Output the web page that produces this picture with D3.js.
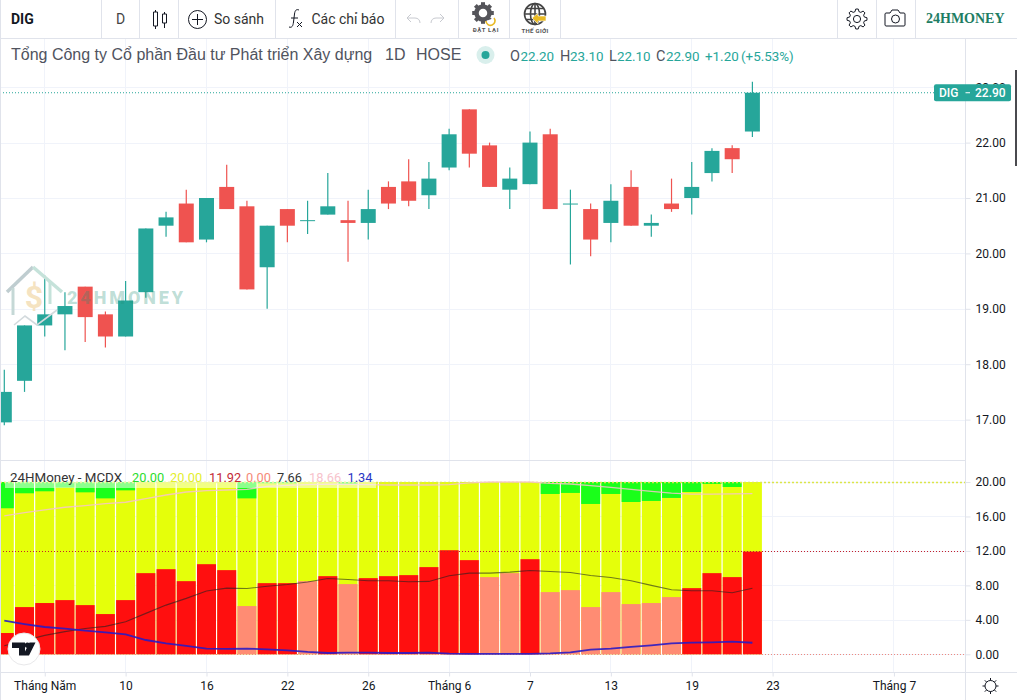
<!DOCTYPE html>
<html>
<head>
<meta charset="utf-8">
<script src="https://cdn.jsdelivr.net/npm/d3@7"></script>
<style>
  html, body { margin: 0; padding: 0; background: #fff; overflow: hidden; }
  svg { display: block; font-family: Roboto, "Liberation Sans", sans-serif; }
</style>
</head>
<body>
<div id="chart"></div>
<script>
// Candles
const opens  = [16.95,17.7,18.7,18.9,19.4,18.9,18.5,19.3,20.5,20.9,20.25,21.2,20.85,19.75,20.8,20.6,20.7,20.6,20.55,21.2,21.3,21.05,21.55,22.6,21.95,21.15,21.25,22.15,20.9,20.8,20.55,21.2,20.5,20.9,21,21.45,21.9,22.2];
const highs  = [17.9,18.7,19.6,19.3,19.4,18.95,19.5,20.45,20.75,21.15,21,21.6,20.95,20.5,20.8,20.95,21.45,20.95,21.15,21.3,21.7,21.65,22.25,22.6,22,21.55,22.2,22.25,21.15,20.9,21.25,21.5,20.7,21.35,21.65,21.9,21.95,23.1];
const lows   = [16.9,17.5,18.5,18.25,18.4,18.3,18.5,19.2,20.3,20.2,20.2,20.8,19.35,19,20.2,20.35,20.7,19.85,20.25,20.8,20.85,20.8,21.5,21.55,21.2,20.8,21.25,20.8,19.8,19.95,20.2,20.5,20.3,20.75,20.7,21.3,21.45,22.1];
const closes = [17.5,18.7,18.9,19.05,18.85,18.5,19.15,20.45,20.65,20.2,21,20.8,19.35,20.5,20.5,20.6,20.85,20.55,20.8,20.9,20.95,21.35,22.15,21.8,21.2,21.35,22,20.8,20.9,20.25,20.95,20.5,20.55,20.8,21.2,21.85,21.7,22.9];

// MCDX columns and lines
const bigMoney = [2.47,5.48,5.95,6.29,5.71,4.67,6.29,9.42,9.88,8.49,10.46,9.77,5.6,8.26,8.26,8.49,9.07,8.15,8.84,9.07,9.19,10.12,12.08,10.93,8.96,9.42,11.04,7.22,7.45,5.48,7.22,5.83,5.95,6.64,7.68,9.42,8.96,11.92];
const bigFaded = [12,15,17,24,25,27,28,29,30,31,32,33];
const greenFloor = [16.95,18.69,18.92,19.35,18.8,18.1,19.03,20,20,20,20,20,18.1,19.85,19.85,20,20,19.8,20,20,20,20,20,20,20,20,20,18.61,18.73,17.45,18.61,17.68,17.8,18.15,18.84,19.77,19.42,20];
const bigAverage = [1,1.6,2.2,2.63,3,3.24,3.78,4.75,5.71,6.49,7.34,7.68,7.64,7.9,8.1,8.4,8.8,8.69,8.53,8.53,8.42,8.46,9.11,9.42,9.42,9.54,9.73,9.61,9.5,9.15,8.92,8.53,8,7.49,7.37,7.37,7.14,7.66];
const greenAverage = [16.06,16.44,16.76,17.07,17.26,17.5,17.65,18.07,18.49,18.84,19,19.07,19.15,19.5,19.6,19.7,19.75,19.72,19.7,19.65,19.65,19.65,19.7,19.9,20,20,20,19.85,19.77,19.57,19.38,19.15,18.92,18.7,18.6,18.6,18.62,18.66];
const blueLine = [3.9,3.51,3.17,2.97,2.74,2.55,2.32,1.66,1.27,0.97,0.66,0.62,0.66,0.58,0.46,0.27,0.15,0.19,0.19,0.15,0.15,0.2,0.08,0.04,0.04,0.04,0.04,0.1,0.23,0.54,0.66,0.85,1.04,1.27,1.35,1.39,1.47,1.34];

// Axes
const priceTicks = [17,18,19,20,21,22,23];
const mcdxTicks = [0,4,8,12,16,20];
const timeTickIndex = [2,6,10,14,18,22,26,30,34,38,44];
const timeTickLabels = ["Tháng Năm","10","16","22","26","Tháng 6","7","13","19","23","Tháng 7"];

const legendItems = [
  ["20.00","#2bdc2b",132], ["20.00","#e3ee2c",170], ["11.92","#c42b36",209],
  ["0.00","#f58a78",246], ["7.66","#333333",277], ["18.66","#f7c3cc",309], ["1.34","#2a35c4",347.5]
];
const ohlcItems = [
  ["O","#50535e",510,14.5], ["22.20","#26a69a",520.5,13.4], ["H","#50535e",560,14.5], ["23.10","#26a69a",570,13.4],
  ["L","#50535e",609,14.5], ["22.10","#26a69a",617,13.4], ["C","#50535e",656,14.5], ["22.90","#26a69a",666,13.4],
  ["+1.20","#26a69a",705,13.4], ["(+5.53%)","#26a69a",741,13.4]
];

const UP = "#26a69a", DOWN = "#ef5350", GRID = "#f0f3fa", BORDER = "#e0e3eb", TEXT = "#131722";
const width = 1017, height = 700;
const scaleX = 965, pane2Top = 460, axisTop = 672;

const svg = d3.select("#chart").append("svg")
  .attr("width", width)
  .attr("height", height);

svg.append("defs").append("clipPath").attr("id", "plot")
  .append("rect").attr("x", 1).attr("y", 39).attr("width", scaleX - 1).attr("height", axisTop - 39);

// Scales
const x = d3.scaleLinear().domain([0, 37]).range([4.3, 752.4]);
const yPrice = d3.scaleLinear().domain([17, 22]).range([419.6, 142.6]);
const yMcdx = d3.scaleLinear().domain([0, 20]).range([654.3, 482]);

// Grid lines
const grid = svg.append("g").attr("stroke", GRID).attr("stroke-width", 1);
grid.selectAll("line.v").data(timeTickIndex).enter().append("line")
  .attr("x1", d => Math.floor(x(d)) + .5).attr("x2", d => Math.floor(x(d)) + .5)
  .attr("y1", 39).attr("y2", axisTop);
grid.selectAll("line.p").data(priceTicks).enter().append("line")
  .attr("x1", 0).attr("x2", scaleX)
  .attr("y1", d => Math.round(yPrice(d)) + .5).attr("y2", d => Math.round(yPrice(d)) + .5);
grid.selectAll("line.m").data(mcdxTicks).enter().append("line")
  .attr("x1", 0).attr("x2", scaleX)
  .attr("y1", d => Math.round(yMcdx(d)) + .5).attr("y2", d => Math.round(yMcdx(d)) + .5);

// Price pane
const pricePane = svg.append("g").attr("clip-path", "url(#plot)");
const candles = d3.range(opens.length);
const candleColor = i => closes[i] >= opens[i] ? UP : DOWN;

pricePane.selectAll("line.wick").data(candles).enter().append("line")
  .attr("x1", i => x(i)).attr("x2", i => x(i))
  .attr("y1", i => yPrice(highs[i])).attr("y2", i => yPrice(lows[i]))
  .attr("stroke", candleColor).attr("stroke-width", 1.2);

pricePane.selectAll("rect.body").data(candles).enter().append("rect")
  .attr("x", i => x(i) - 7.5).attr("width", 15)
  .attr("y", i => yPrice(Math.max(opens[i], closes[i])))
  .attr("height", i => Math.max(1, Math.abs(yPrice(opens[i]) - yPrice(closes[i]))))
  .attr("fill", candleColor);

// Last price line
pricePane.append("line")
  .attr("x1", 0).attr("x2", 934)
  .attr("y1", yPrice(22.9)).attr("y2", yPrice(22.9))
  .attr("stroke", UP).attr("stroke-width", 1).attr("stroke-dasharray", "1 2");

// Watermark sits on top of the candles
const mark = svg.append("g");
mark.append("path").attr("d", "M7 292 L33 267").attr("fill", "none").attr("stroke", "#bfcdd0").attr("stroke-width", 3.5);
mark.append("path").attr("d", "M33 267 L62 292").attr("fill", "none").attr("stroke", "#c5e2da").attr("stroke-width", 3.5);
mark.append("path").attr("d", "M13 288 L13 315").attr("fill", "none").attr("stroke", "#c5d8d6").attr("stroke-width", 3);
mark.append("path").attr("d", "M50 282 L50 304").attr("fill", "none").attr("stroke", "#c5e2da").attr("stroke-width", 3);
mark.append("path").attr("d", "M14 325 L25 316 L37 325 L57 310").attr("fill", "none").attr("stroke", "#d3dadd").attr("stroke-width", 1.6);
mark.append("text").attr("x", 34).attr("y", 308).attr("text-anchor", "middle")
  .attr("font-size", 32).attr("font-weight", 700).attr("fill", "#f5e3c1").text("$");
mark.append("text").attr("x", 67).attr("y", 303.5).attr("font-size", 18).attr("font-weight", 900)
  .attr("letter-spacing", 2.9).attr("fill", "#1f8f75").attr("fill-opacity", .3).text("24HMONEY");

// MCDX columns
const mcdx = svg.append("g").attr("clip-path", "url(#plot)");
const barW = 19;
mcdx.selectAll("rect.yellow").data(candles).enter().append("rect")
  .attr("x", i => x(i) - barW / 2).attr("width", barW)
  .attr("y", yMcdx(20)).attr("height", yMcdx(0) - yMcdx(20))
  .attr("fill", "#e5ff0a");
mcdx.selectAll("rect.green").data(candles).enter().append("rect")
  .attr("x", i => x(i) - barW / 2).attr("width", barW)
  .attr("y", yMcdx(20)).attr("height", i => yMcdx(greenFloor[i]) - yMcdx(20))
  .attr("fill", "#1aff1a");
mcdx.selectAll("rect.red").data(candles).enter().append("rect")
  .attr("x", i => x(i) - barW / 2).attr("width", barW)
  .attr("y", i => yMcdx(bigMoney[i])).attr("height", i => yMcdx(0) - yMcdx(bigMoney[i]))
  .attr("fill", i => bigFaded.includes(i) ? "#ff8c73" : "#ff0f0f");

// Level lines
[[20, "#dbe64a", "2 2", 1.5], [12, "#c4202c", "1 2", 1], [0, "#ee8a80", "1 2", 1]].forEach(([v, color, dash, w]) => {
  mcdx.append("line").attr("x1", 0).attr("x2", scaleX)
    .attr("y1", Math.round(yMcdx(v)) + .5).attr("y2", Math.round(yMcdx(v)) + .5)
    .attr("stroke", color).attr("stroke-width", w).attr("stroke-dasharray", dash);
});

// MCDX lines
const lineOf = yValues => d3.line().x(i => x(i)).y(i => yMcdx(yValues[i]))(candles);
mcdx.append("path").attr("d", lineOf(greenAverage)).attr("fill", "none")
  .attr("stroke", "#f7c3cc").attr("stroke-opacity", .85).attr("stroke-width", 1.3);
mcdx.append("path").attr("d", lineOf(bigAverage)).attr("fill", "none")
  .attr("stroke", "#222").attr("stroke-opacity", .6).attr("stroke-width", 1.1);
mcdx.append("path").attr("d", lineOf(blueLine)).attr("fill", "none")
  .attr("stroke", "#2a1bc4").attr("stroke-opacity", .9).attr("stroke-width", 1.8);

// Legend backing over the columns
svg.append("rect").attr("x", 5).attr("y", 482).attr("width", 371).attr("height", 6)
  .attr("fill", "#fff").attr("opacity", .5);

// Pane borders
const borders = [
  [0, 38.5, width, 38.5], [0, pane2Top + .5, scaleX, pane2Top + .5],
  [0, axisTop + .5, width, axisTop + .5], [scaleX + .5, 39, scaleX + .5, height],
  [.5, 0, .5, height]
];
svg.append("g").selectAll("line").data(borders).enter().append("line")
  .attr("x1", d => d[0]).attr("y1", d => d[1]).attr("x2", d => d[2]).attr("y2", d => d[3])
  .attr("stroke", BORDER).attr("stroke-width", 1);

// Page scrollbar sliver at the right edge
svg.append("rect").attr("x", 1015).attr("y", 70).attr("width", 2).attr("height", 96).attr("fill", "#4a4a4f");

// Axes
function styleAxis(g) {
  g.select(".domain").remove();
  g.selectAll("line").attr("stroke", BORDER);
  g.selectAll("text").attr("fill", TEXT).attr("font-size", 12)
    .attr("font-family", "Roboto, 'Liberation Sans', sans-serif");
}
svg.append("g").attr("transform", `translate(${scaleX + .5},0)`)
  .call(d3.axisRight(yPrice).tickValues(priceTicks).tickFormat(d3.format(".2f")).tickSize(5).tickPadding(5))
  .call(styleAxis);
svg.append("g").attr("transform", `translate(${scaleX + .5},0)`)
  .call(d3.axisRight(yMcdx).tickValues(mcdxTicks).tickFormat(d3.format(".2f")).tickSize(5).tickPadding(5))
  .call(styleAxis);
svg.append("g").attr("transform", `translate(0,${axisTop + .5})`)
  .call(d3.axisBottom(x).tickValues(timeTickIndex)
    .tickFormat(d => timeTickLabels[timeTickIndex.indexOf(d)]).tickSize(4).tickPadding(5))
  .call(styleAxis);

// Last price label
const tag = svg.append("g").attr("transform", `translate(0,${yPrice(22.9)})`);
tag.append("rect").attr("x", 934).attr("y", -8.5).attr("width", 77).attr("height", 17).attr("rx", 2).attr("fill", UP);
tag.append("line").attr("x1", 965.5).attr("x2", 970).attr("stroke", "#fff");
tag.append("text").attr("x", 939).attr("y", 4.5).attr("font-size", 12).attr("font-weight", 500).attr("fill", "#fff").text("DIG");
tag.append("text").attr("x", 975).attr("y", 4.5).attr("font-size", 12).attr("font-weight", 500).attr("fill", "#fff").text("22.90");

// Title row
const titleFont = "'Liberation Sans', Arial, sans-serif";
svg.append("text").attr("x", 11).attr("y", 60).attr("font-size", 16).attr("font-family", titleFont).attr("fill", "#50535e")
  .text("Tổng Công ty Cổ phần Đầu tư Phát triển Xây dựng");
svg.append("text").attr("x", 385).attr("y", 60).attr("font-size", 16).attr("font-family", titleFont).attr("fill", "#50535e").text("1D");
svg.append("text").attr("x", 416).attr("y", 60).attr("font-size", 16).attr("font-family", titleFont).attr("fill", "#50535e").text("HOSE");
svg.append("circle").attr("cx", 485.5).attr("cy", 55).attr("r", 9).attr("fill", "#d9efec");
svg.append("circle").attr("cx", 485.5).attr("cy", 55).attr("r", 4).attr("fill", UP);
svg.append("g").selectAll("text").data(ohlcItems).enter().append("text")
  .attr("x", d => d[2]).attr("y", 61).attr("font-size", d => d[3]).attr("fill", d => d[1]).text(d => d[0]);

// MCDX legend
svg.append("text").attr("x", 10).attr("y", 482).attr("font-size", 13.35).attr("fill", "#333").text("24HMoney - MCDX");
svg.append("g").selectAll("text").data(legendItems).enter().append("text")
  .attr("x", d => d[2]).attr("y", 482).attr("font-size", 12.8).attr("fill", d => d[1]).text(d => d[0]);

// Toolbar
const bar = svg.append("g");
[101.5, 139.5, 178.5, 275.5, 395.5, 458.5, 509.5, 560.5, 837.5, 876.5, 915.5].forEach(v => {
  bar.append("line").attr("x1", v).attr("x2", v).attr("y1", 0).attr("y2", 38).attr("stroke", BORDER);
});
bar.append("text").attr("x", 11).attr("y", 24).attr("font-size", 14).attr("font-weight", 700).attr("fill", TEXT).text("DIG");
bar.append("text").attr("x", 116).attr("y", 24).attr("font-size", 14).attr("fill", "#444").text("D");
bar.append("text").attr("x", 214).attr("y", 24).attr("font-size", 14).attr("fill", "#333").text("So sánh");
bar.append("text").attr("x", 311.5).attr("y", 24).attr("font-size", 14).attr("fill", "#333").text("Các chỉ báo");
bar.append("text").attr("x", 926).attr("y", 23).attr("font-size", 14).attr("font-weight", 700)
  .attr("font-family", "'Liberation Serif', serif").attr("fill", "#1e7d63").text("24HMONEY");
bar.append("text").attr("x", 486).attr("y", 31.5).attr("text-anchor", "middle").attr("font-size", 6).attr("font-weight", 700)
  .attr("letter-spacing", .7).attr("fill", "#555").text("ĐẶT LẠI");
bar.append("text").attr("x", 535).attr("y", 32.5).attr("text-anchor", "middle").attr("font-size", 6).attr("font-weight", 700)
  .attr("letter-spacing", .3).attr("fill", "#555").text("THẾ GIỚI");

const icons = bar.append("g").attr("fill", "none").attr("stroke", TEXT).attr("stroke-width", 1);
// candle icon
icons.append("path").attr("d", "M155.5 10V12M155.5 26V29M153.5 12h4v14h-4zM164.5 12V14M164.5 23V28M162.5 14h4v9h-4z");
// compare
icons.append("circle").attr("cx", 197.5).attr("cy", 19.5).attr("r", 9);
icons.append("path").attr("d", "M197.5 14v11M192 19.5h11");
// indicators
icons.append("path").attr("d", "M289 27c3 1 4-1 4.5-5l1-8c.5-4 2-5 4.5-4M291 18h7M297 22l5 5M302 22l-5 5");
// undo, redo
icons.append("path").attr("d", "M407 18h8c3 0 5 2 5 5M407 18l4-4M407 18l4 4M444 18h-8c-3 0-5 2-5 5M444 18l-4-4M444 18l-4 4").attr("stroke", "#c8cad0");
// camera
icons.append("path").attr("d", "M886 13h4l2-3h6l2 3h4c.5 0 1 .5 1 1v11c0 .5-.5 1-1 1h-18c-.5 0-1-.5-1-1V14c0-.5.5-1 1-1z");
icons.append("circle").attr("cx", 895.5).attr("cy", 19).attr("r", 4);
// settings cog
const cog = (cx, cy, r) => {
  const g = icons.append("g").attr("transform", `translate(${cx},${cy})`);
  g.append("circle").attr("r", r * .36);
  const points = d3.range(48).map(i => {
    const a = i / 48 * 2 * Math.PI;
    const rr = Math.cos(a * 8) > 0 ? r : r * .76;
    return [rr * Math.cos(a), rr * Math.sin(a)];
  });
  g.append("path").attr("d", d3.line().curve(d3.curveLinearClosed)(points));
};
cog(857, 19, 10);
// bottom right display icon
icons.append("circle").attr("cx", 990.5).attr("cy", 686).attr("r", 5.5);
icons.append("path").attr("d", "M990.5 678v2.5M990.5 691.5v2.5M982.5 686h2.5M996 686h2.5M984.8 680.3l1.8 1.8M994.4 689.9l1.8 1.8M984.8 691.7l1.8-1.8M994.4 682.1l1.8-1.8");

// reset icon and globe icon
const reset = bar.append("g").attr("transform", "translate(483,13)");
reset.append("circle").attr("r", 6.5).attr("fill", "none").attr("stroke", "#55555a").attr("stroke-width", 4.5);
d3.range(8).forEach(i => {
  reset.append("rect").attr("x", -2).attr("y", -10.8).attr("width", 4).attr("height", 3.5)
    .attr("fill", "#55555a").attr("transform", `rotate(${i * 45})`);
});
reset.append("path").attr("d", "M3 8a4.5 4.5 0 1 0 8 -3").attr("fill", "#fff").attr("stroke", "#e8b923").attr("stroke-width", 1.6);
const globe = bar.append("g").attr("transform", "translate(535,14)").attr("fill", "none").attr("stroke", "#444").attr("stroke-width", 1.6);
globe.append("circle").attr("r", 10.5);
globe.append("ellipse").attr("rx", 4.5).attr("ry", 10.5);
globe.append("path").attr("d", "M-10 0H10M-9 -5.5H9M-9 5.5H9M0 -10V10");
globe.append("path").attr("d", "M-3 4l6-5v3h8v5h-8v3z").attr("fill", "#e8b923").attr("stroke", "#fff").attr("stroke-width", .6);

// TradingView badge
const tv = svg.append("g").attr("transform", "translate(24,649)");
tv.append("circle").attr("r", 16).attr("fill", "#fff").attr("stroke", "#e8e8ea").attr("stroke-width", 1);
tv.append("path").attr("d", "M-12 -6.5H1V6.5H-5V-1H-12ZM11.5 -6.5L5 6.5H-1L5.5 -6.5Z").attr("fill", "#131722");
tv.append("circle").attr("cx", 3.4).attr("cy", -3.8).attr("r", 2.6).attr("fill", "#131722");
</script>
</body>
</html>
